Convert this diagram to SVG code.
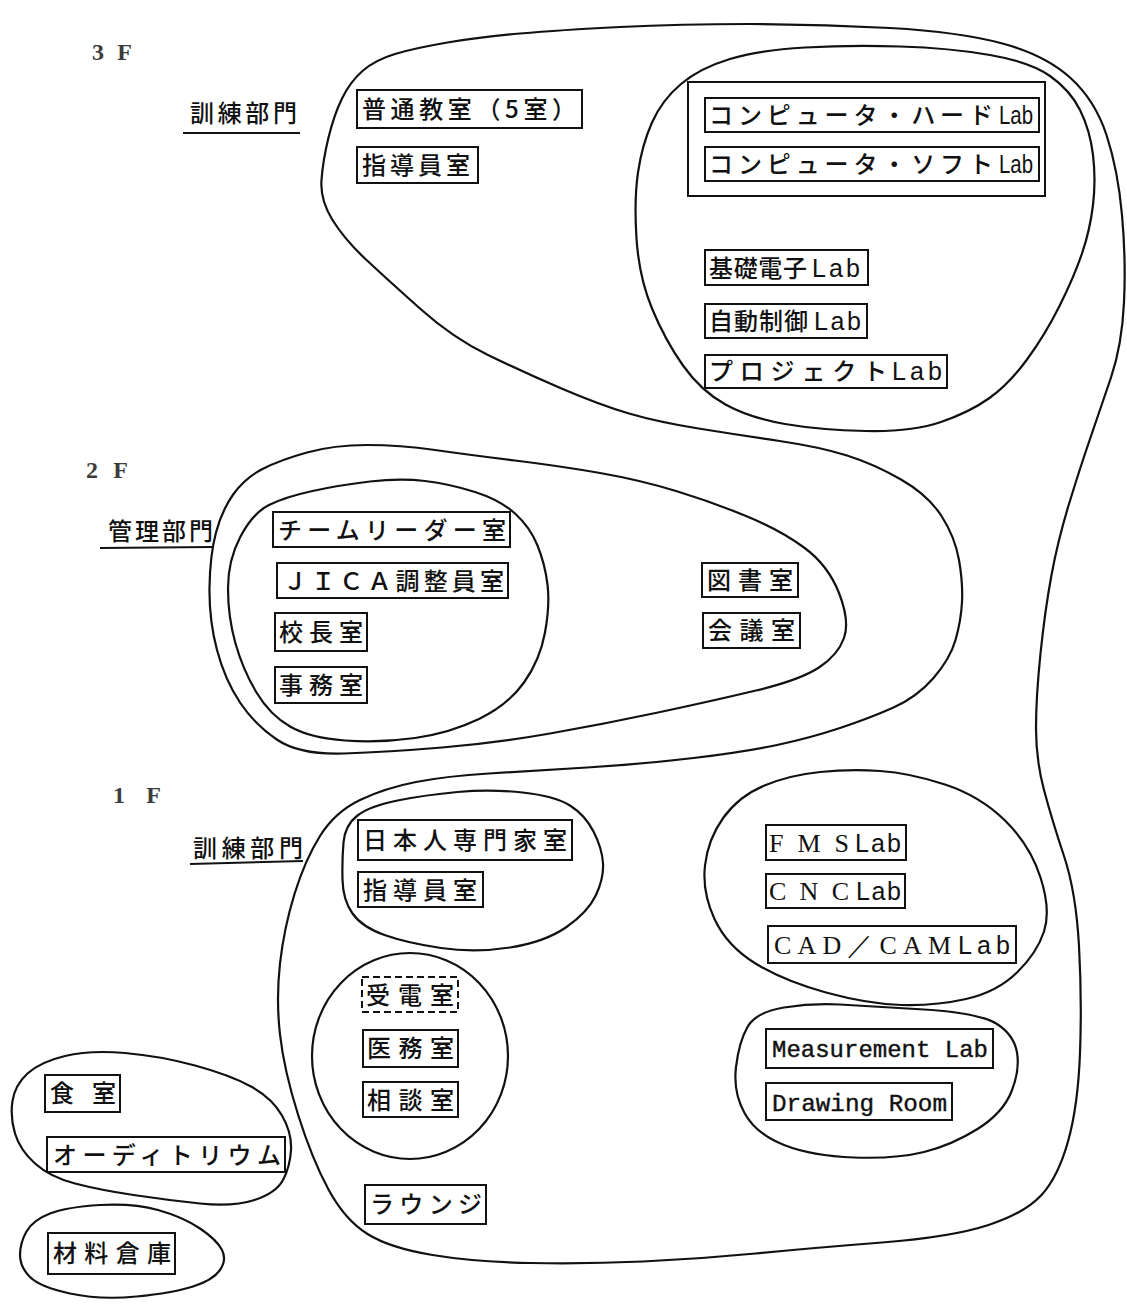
<svg xmlns="http://www.w3.org/2000/svg" width="1127" height="1305" viewBox="0 0 1127 1305">
<style>
.blob{fill:none;stroke:#111;stroke-width:2.2;stroke-linejoin:round}
.box{fill:none;stroke:#111;stroke-width:2}
.dash{fill:none;stroke:#111;stroke-width:2;stroke-dasharray:7 4}
.ul{fill:none;stroke:#111;stroke-width:2}
.jp{font-family:"Noto Sans CJK JP","Noto Sans CJK SC",sans-serif;font-size:24px;font-weight:500;fill:#111}
.lab{font-family:"Liberation Sans",sans-serif;font-size:25px;fill:#111}
.ser{font-family:"Liberation Serif",serif;font-size:26px;fill:#111}
.mono{font-family:"Liberation Mono",monospace;font-size:24px;fill:#111;stroke:#111;stroke-width:0.4}
.fl{font-family:"Liberation Serif",serif;font-weight:bold;font-size:24px;fill:#3c3c3c}
</style>
<rect width="1127" height="1305" fill="#fff"/>

<g id="blobs">
<path id="blob-training" class="blob" d="M 332.5,220 Q 320,200 321.5,180 Q 323,160 328.5,137.5 Q 334,115 342,98.5 Q 350,82 362.5,71 Q 375,60 395,54 Q 415,48 447.5,42.5 Q 480,37 520,33.5 Q 560,30 620,27 Q 680,24 750,24 Q 820,24 890,28 Q 960,32 1002.5,43.5 Q 1045,55 1070,77.5 Q 1095,100 1106.5,135 Q 1118,170 1122,215 Q 1126,260 1124,302.5 Q 1122,345 1111,377.5 Q 1100,410 1090,439 Q 1080,468 1069,504 Q 1058,540 1051.5,575 Q 1045,610 1040.5,653.5 Q 1036,697 1036,728.5 Q 1036,760 1044,790 Q 1052,820 1064,856 Q 1076,892 1079,946 Q 1082,1000 1080,1053 Q 1078,1106 1068,1141.5 Q 1058,1177 1041.5,1195 Q 1025,1213 988.5,1225 Q 952,1237 882,1242.5 Q 812,1248 755.5,1253.5 Q 699,1259 643,1261.5 Q 587,1264 531,1263 Q 475,1262 432.5,1255 Q 390,1248 367.5,1234 Q 345,1220 328.5,1189.5 Q 312,1159 298,1114.5 Q 284,1070 280,1034.5 Q 276,999 280,963.5 Q 284,928 294.5,894 Q 305,860 320,836 Q 335,812 360,800 Q 385,788 416,782 Q 447,776 489,773.5 Q 531,771 587,767.5 Q 643,764 693.5,758 Q 744,752 777,745 Q 810,738 840,728 Q 870,718 893.5,707.5 Q 917,697 933.5,678 Q 950,659 955.5,640 Q 961,621 962,602 Q 963,583 959,560 Q 955,537 941.5,516 Q 928,495 901,479.5 Q 874,464 847,455.5 Q 820,447 779.5,441 Q 739,435 698.5,428.5 Q 658,422 629,413.5 Q 600,405 561.5,388.5 Q 523,372 488,355 Q 453,338 420.5,309 Q 388,280 366.5,260 Q 345,240 332.5,220 Z"/>
<path id="blob-3f-labs" class="blob" d="M 638,172.5 Q 634,200 636.5,238.5 Q 639,277 652,308.5 Q 665,340 683,365.5 Q 701,391 725.5,404.5 Q 750,418 785,424 Q 820,430 866,431 Q 912,432 941,422 Q 970,412 989.5,398 Q 1009,384 1027,359.5 Q 1045,335 1059.5,306 Q 1074,277 1082,253.5 Q 1090,230 1093,205 Q 1096,180 1093,155 Q 1090,130 1080,110 Q 1070,90 1050,76 Q 1030,62 990,55 Q 950,48 900,46.5 Q 850,45 805,47.5 Q 760,50 730,59 Q 700,68 681,84 Q 662,100 652,122.5 Q 642,145 638,172.5 Z"/>
<path id="blob-2f-admin" class="blob" d="M 262.5,469 Q 280,460 307,452.5 Q 334,445 367,445 Q 400,445 435,450 Q 470,455 515,460.5 Q 560,466 600,473 Q 640,480 676,491 Q 712,502 746,516 Q 780,530 804,547.5 Q 828,565 839,593 Q 850,621 844,638 Q 838,655 819,667.5 Q 800,680 756,690.5 Q 712,701 658,712.5 Q 604,724 550,733.5 Q 496,743 442,747.5 Q 388,752 344,753.5 Q 300,755 277.5,740 Q 255,725 240,702.5 Q 225,680 217,650 Q 209,620 209.5,587.5 Q 210,555 216,532.5 Q 222,510 233.5,494 Q 245,478 262.5,469 Z"/>
<path id="blob-2f-inner" class="blob" d="M 240.5,536.5 Q 253,513 269,505 Q 285,497 312.5,491 Q 340,485 370,481.5 Q 400,478 425,481 Q 450,484 475,492 Q 500,500 515,513.5 Q 530,527 537.5,545.5 Q 545,564 547.5,584.5 Q 550,605 545,632.5 Q 540,660 524,682.5 Q 508,705 479,719 Q 450,733 415,738 Q 380,743 345,740.5 Q 310,738 290,726.5 Q 270,715 256.5,692.5 Q 243,670 235.5,643.5 Q 228,617 228,588.5 Q 228,560 240.5,536.5 Z"/>
<path id="blob-1f-staff" class="blob" d="M 342.5,880 Q 342,860 343.5,842.5 Q 345,825 357.5,815.5 Q 370,806 397.5,800.5 Q 425,795 457.5,792 Q 490,789 522.5,792.5 Q 555,796 570,805.5 Q 585,815 593.5,831.5 Q 602,848 603,863 Q 604,878 596,895 Q 588,912 566.5,927 Q 545,942 510,947.5 Q 475,953 441,948 Q 407,943 384.5,935 Q 362,927 352.5,913.5 Q 343,900 342.5,880 Z"/>
<ellipse id="blob-1f-med" class="blob" cx="410" cy="1056" rx="98" ry="103"/>
<path id="blob-1f-fms" class="blob" d="M 705,865.5 Q 708,839 723.5,817.5 Q 739,796 764.5,785.5 Q 790,775 820,772 Q 850,769 880,771 Q 910,773 945,784.5 Q 980,796 1005,820.5 Q 1030,845 1040.5,877.5 Q 1051,910 1044,931.5 Q 1037,953 1017,972.5 Q 997,992 966,999 Q 935,1006 901.5,1005 Q 868,1004 826,992.5 Q 784,981 755.5,963.5 Q 727,946 714.5,919 Q 702,892 705,865.5 Z"/>
<path id="blob-1f-meas" class="blob" d="M 736,1067 Q 739,1042 747.5,1027 Q 756,1012 784,1007.5 Q 812,1003 840,1004.5 Q 868,1006 924,1009.5 Q 980,1013 997,1024 Q 1014,1035 1017,1052.5 Q 1020,1070 1011.5,1091.5 Q 1003,1113 977.5,1129 Q 952,1145 924,1152 Q 896,1159 854,1157.5 Q 812,1156 784,1145 Q 756,1134 744.5,1113 Q 733,1092 736,1067 Z"/>
<path id="blob-canteen" class="blob" d="M 15,1133.5 Q 10,1117 12.5,1101 Q 15,1085 27.5,1073.5 Q 40,1062 65,1056 Q 90,1050 125,1053 Q 160,1056 195,1065.5 Q 230,1075 251,1086.5 Q 272,1098 282,1115.5 Q 292,1133 291,1150 Q 290,1167 283,1180 Q 276,1193 254.5,1200 Q 233,1207 200,1203.5 Q 167,1200 133.5,1195 Q 100,1190 75,1183.5 Q 50,1177 35,1163.5 Q 20,1150 15,1133.5 Z"/>
<path id="blob-store" class="blob" d="M 20,1255 Q 20,1243 26.5,1231.5 Q 33,1220 50,1213.5 Q 67,1207 100,1205 Q 133,1203 158,1210 Q 183,1217 200,1228.5 Q 217,1240 222,1250 Q 227,1260 220,1270 Q 213,1280 193,1286.5 Q 173,1293 136.5,1296.5 Q 100,1300 70,1293.5 Q 40,1287 30,1277 Q 20,1267 20,1255 Z"/>
</g>

<g id="connectors"></g>

<!-- 3F -->
<g id="floor-3f"><text class="fl" x="92" y="60" textLength="40">3F</text></g>
<g id="dept-3f"><text class="jp" x="190" y="122" textLength="107">訓練部門</text><path class="ul" d="M183,133 L300,133"/></g>
<g id="n-futsu"><rect class="box" x="357" y="90" width="225" height="38"/><text class="jp" x="362" y="118" textLength="214">普通教室（5室）</text></g>
<g id="n-shido3"><rect class="box" x="357" y="147" width="121" height="36"/><text class="jp" x="362" y="174" textLength="108">指導員室</text></g>
<g id="n-computer">
<rect class="box" x="688" y="82" width="357" height="114"/>
<rect class="box" x="705" y="98" width="334" height="34"/>
<text class="jp" x="709" y="124" textLength="284">コンピュータ・ハード</text><text class="lab" x="999" y="124" textLength="34" lengthAdjust="spacingAndGlyphs">Lab</text>
<rect class="box" x="705" y="147" width="334" height="34"/>
<text class="jp" x="709" y="173" textLength="284">コンピュータ・ソフト</text><text class="lab" x="999" y="173" textLength="34" lengthAdjust="spacingAndGlyphs">Lab</text>
</g>
<g id="n-kiso"><rect class="box" x="705" y="250" width="163" height="35"/><text class="jp" x="709" y="277" textLength="98">基礎電子</text><text class="lab" x="812" y="277" textLength="48">Lab</text></g>
<g id="n-jido"><rect class="box" x="705" y="304" width="162" height="34"/><text class="jp" x="709" y="330" textLength="99">自動制御</text><text class="lab" x="814" y="330" textLength="47">Lab</text></g>
<g id="n-project"><rect class="box" x="705" y="355" width="242" height="33"/><text class="jp" x="709" y="380" textLength="178">プロジェクト</text><text class="lab" x="892" y="380" textLength="50">Lab</text></g>

<!-- 2F -->
<g id="floor-2f"><text class="fl" x="86" y="478" textLength="42">2F</text></g>
<g id="dept-2f"><text class="jp" x="108" y="540" textLength="105">管理部門</text><path class="ul" d="M100,548 L213,547"/></g>
<g id="n-team"><rect class="box" x="273" y="512" width="237" height="35"/><text class="jp" x="278" y="539" textLength="228">チームリーダー室</text></g>
<g id="n-jica"><rect class="box" x="277" y="563" width="231" height="35"/><text class="jp" x="283" y="590" textLength="221">ＪＩＣＡ調整員室</text></g>
<g id="n-kocho"><rect class="box" x="275" y="613" width="92" height="38"/><text class="jp" x="279" y="641" textLength="84">校長室</text></g>
<g id="n-jimu"><rect class="box" x="275" y="667" width="92" height="36"/><text class="jp" x="279" y="694" textLength="84">事務室</text></g>
<g id="n-tosho"><rect class="box" x="702" y="563" width="96" height="34"/><text class="jp" x="707" y="589" textLength="86">図書室</text></g>
<g id="n-kaigi"><rect class="box" x="703" y="613" width="97" height="35"/><text class="jp" x="708" y="639" textLength="87">会議室</text></g>

<!-- 1F -->
<g id="floor-1f"><text class="fl" x="113" y="803" textLength="48">1F</text></g>
<g id="dept-1f"><text class="jp" x="193" y="857" textLength="110">訓練部門</text><path class="ul" d="M190,864 L303,861"/></g>
<g id="n-nihonjin"><rect class="box" x="358" y="820" width="214" height="40"/><text class="jp" x="363" y="849" textLength="204">日本人専門家室</text></g>
<g id="n-shido1"><rect class="box" x="358" y="872" width="125" height="35"/><text class="jp" x="363" y="899" textLength="114">指導員室</text></g>
<g id="n-juden"><rect class="dash" x="362" y="977" width="96" height="35"/><text class="jp" x="366" y="1004" textLength="88">受電室</text></g>
<g id="n-imu"><rect class="box" x="363" y="1030" width="95" height="37"/><text class="jp" x="367" y="1057" textLength="87">医務室</text></g>
<g id="n-sodan"><rect class="box" x="363" y="1082" width="95" height="35"/><text class="jp" x="367" y="1109" textLength="87">相談室</text></g>
<g id="n-lounge"><rect class="box" x="365" y="1185" width="121" height="39"/><text class="jp" x="370" y="1213" textLength="112">ラウンジ</text></g>
<g id="n-fms"><rect class="box" x="766" y="825" width="140" height="35"/><text class="ser" x="769" y="852" textLength="80">FMS</text><text class="lab" x="855" y="852" textLength="46">Lab</text></g>
<g id="n-cnc"><rect class="box" x="766" y="874" width="139" height="34"/><text class="ser" x="769" y="900" textLength="80">CNC</text><text class="lab" x="856" y="900" textLength="45">Lab</text></g>
<g id="n-cad"><rect class="box" x="768" y="926" width="248" height="37"/><text class="ser" x="774" y="954" textLength="177">CAD／CAM</text><text class="lab" x="958" y="954" textLength="52">Lab</text></g>
<g id="n-meas"><rect class="box" x="766" y="1029" width="227" height="39"/><text class="mono" x="772" y="1057" textLength="216" lengthAdjust="spacingAndGlyphs">Measurement Lab</text></g>
<g id="n-drawing"><rect class="box" x="766" y="1083" width="186" height="37"/><text class="mono" x="772" y="1111" textLength="175" lengthAdjust="spacingAndGlyphs">Drawing Room</text></g>
<g id="n-shoku"><rect class="box" x="45" y="1075" width="75" height="37"/><text class="jp" x="50" y="1102" textLength="66">食室</text></g>
<g id="n-auditorium"><rect class="box" x="47" y="1137" width="238" height="35"/><text class="jp" x="53" y="1164" textLength="228">オーディトリウム</text></g>
<g id="n-zairyo"><rect class="box" x="48" y="1233" width="127" height="41"/><text class="jp" x="53" y="1262" textLength="118">材料倉庫</text></g>
</svg>
